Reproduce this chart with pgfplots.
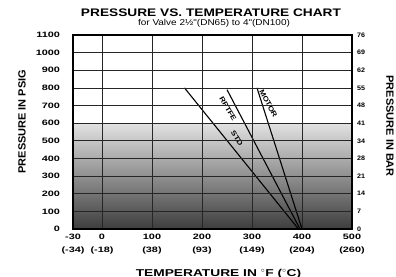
\documentclass[border=0pt]{standalone}
\usepackage{fontspec}
\setmainfont{Liberation Sans}
\newfontfamily\wideTitle[FakeStretch=1.25]{Liberation Sans}
\newfontfamily\wideSub[FakeStretch=1.18]{Liberation Sans}
\newfontfamily\wideTick[FakeStretch=1.4]{Liberation Sans}
\newfontfamily\wideX[FakeStretch=1.38]{Liberation Sans}
\newfontfamily\wideY[FakeStretch=1.05]{Liberation Sans}
\newfontfamily\wideR[FakeStretch=1.1]{Liberation Sans}
\usepackage{pgfplots}
\pgfplotsset{compat=1.18}
\begin{document}
\begin{tikzpicture}
\useasboundingbox (-73bp,-48bp) rectangle (323bp,229bp);
\pgfplotsset{
  common/.style={
    scale only axis, width=279bp, height=194bp,
    at={(0,0)}, anchor=south west,
    xmin=-58, xmax=500, ymin=0, ymax=1100,
    ytick={0,100,...,1100},
    major tick length=0pt,
    /pgf/number format/1000 sep={},
    /pgf/number format/assume math mode=true,
    axis line style={line width=1.1pt},
  }
}
\begin{axis}[common,
  name=main,
  xtick={-58,0,100,200,300,400,500},
  xticklabels={{-30\\(-34)},{0\\(-18)},{100\\(38)},{200\\(93)},{300\\(149)},{400\\(204)},{500\\(260)}},
  xticklabel style={align=center, font=\wideTick\bfseries\fontsize{7.8}{12.8}\selectfont, yshift=-2bp},
  yticklabel style={font=\wideTick\bfseries\fontsize{7.8}{9}\selectfont, xshift=-9.5bp},
  grid=major,
  grid style={black!85, line width=0.8pt},
  axis on top,
]
\addplot[draw=none, top color=black!12, middle color=black!55, bottom color=black!76] coordinates {(-58,0) (500,0) (500,595) (-58,595)} \closedcycle;
\addplot[black, line width=1.1pt] coordinates {(165,800) (393,0)};
\addplot[black, line width=1.1pt] coordinates {(250,790) (396,0)};
\addplot[black, line width=1.1pt] coordinates {(310,800) (400,0)};
\node[rotate=-60, font=\wideSub\bfseries\fontsize{7}{8}\selectfont] at (axis cs:252,682) {RPTFE};
\node[rotate=-58, font=\wideSub\bfseries\fontsize{7}{8}\selectfont] at (axis cs:270,512) {STD};
\node[rotate=-62, font=\wideSub\bfseries\fontsize{7}{8}\selectfont] at (axis cs:333,712) {MOTOR};
\end{axis}
\begin{axis}[common,
  hide x axis,
  axis y line*=right,
  yticklabels={0,7,14,21,28,34,41,48,55,62,69,76},
  yticklabel style={font=\wideR\bfseries\fontsize{6.5}{7.5}\selectfont, xshift=1.7bp},
]
\end{axis}
\node[anchor=base, font=\wideTitle\bfseries\fontsize{11}{12}\selectfont] at ([yshift=18.3bp,xshift=-1.5bp]main.north) {PRESSURE VS. TEMPERATURE CHART};
\node[anchor=base, font=\wideSub\fontsize{8.5}{9.5}\selectfont] at ([yshift=9.5bp,xshift=1.5bp]main.north) {for Valve 2½"(DN65) to 4"(DN100)};
\node[anchor=base, font=\wideX\bfseries\fontsize{10}{11}\selectfont] at ([yshift=-47bp,xshift=6bp]main.south) {TEMPERATURE IN $^\circ$F ($^\circ$C)};
\node[rotate=90, font=\wideY\bfseries\fontsize{10.5}{11}\selectfont] at ([xshift=-51bp,yshift=10.3bp]main.west) {PRESSURE IN PSIG};
\node[rotate=-90, font=\wideY\bfseries\fontsize{10.5}{11}\selectfont] at ([xshift=38bp,yshift=5.8bp]main.east) {PRESSURE IN BAR};
\end{tikzpicture}
\end{document}
